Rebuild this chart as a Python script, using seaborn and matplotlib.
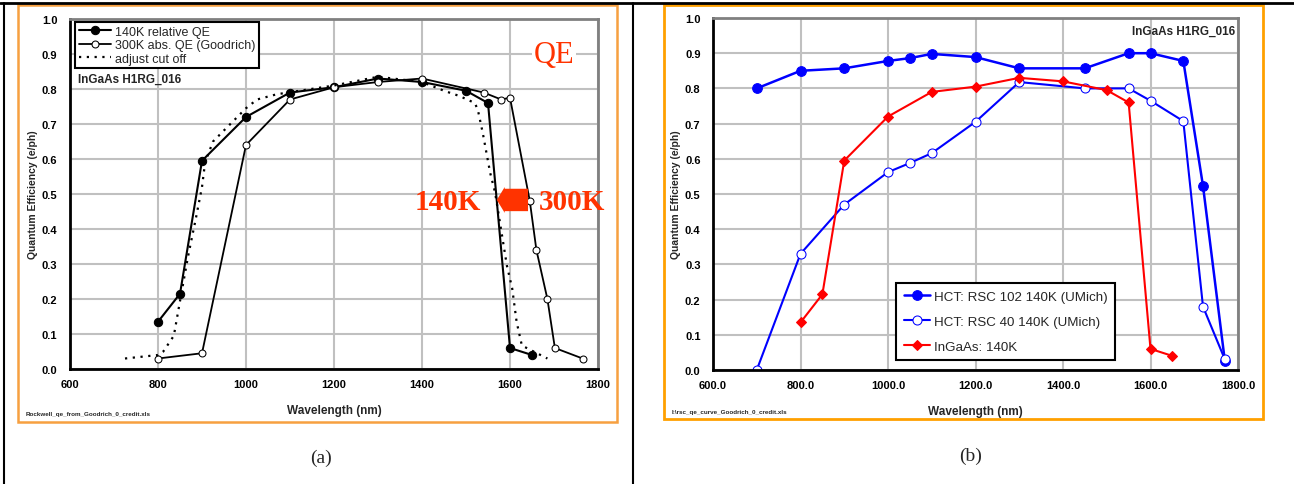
import matplotlib
matplotlib.use("Agg")
import matplotlib.pyplot as plt
import seaborn as sns
from matplotlib.patches import FancyArrow, Rectangle
from matplotlib.lines import Line2D
from matplotlib.ticker import MultipleLocator

# --- 데이터: (a) InGaAs H1RG_016 ---
wl_140k = [800, 850, 900, 1000, 1100, 1200, 1300, 1400, 1500, 1550, 1600, 1650]
qe_140k = [0.135, 0.215, 0.595, 0.72, 0.79, 0.805, 0.83, 0.82, 0.795, 0.76, 0.06, 0.04]

wl_300k = [800, 900, 1000, 1100, 1200, 1300, 1400, 1540, 1580, 1600, 1645, 1660, 1685, 1702, 1765]
qe_300k = [0.03, 0.045, 0.64, 0.77, 0.805, 0.82, 0.83, 0.79, 0.77, 0.775, 0.48, 0.34, 0.20, 0.06, 0.03]

wl_cut = [725, 800, 812, 836, 848, 868, 886, 900, 907, 925, 1000, 1025, 1070, 1200, 1300, 1400,
          1450, 1485, 1520, 1527, 1538, 1555, 1566, 1593, 1605, 1615, 1627, 1685]
qe_cut = [0.03, 0.04, 0.05, 0.095, 0.18, 0.32, 0.43, 0.52, 0.59, 0.65, 0.745, 0.77, 0.785, 0.81,
          0.835, 0.82, 0.795, 0.78, 0.76, 0.74, 0.675, 0.56, 0.505, 0.295, 0.23, 0.135, 0.067, 0.03]

# --- 데이터: (b) HCT vs InGaAs ---
wl_hct = [700, 800, 900, 1000, 1050, 1100, 1200, 1300, 1450, 1550, 1600, 1675, 1720, 1770]
qe_rsc102 = [0.80, 0.85, 0.857, 0.878, 0.886, 0.898, 0.889, 0.857, 0.857, 0.90, 0.90, 0.878, 0.523, 0.025]
qe_rsc40 = [0.0, 0.33, 0.47, 0.562, 0.588, 0.616, 0.705, 0.818, 0.80, 0.80, 0.765, 0.707, 0.18, 0.03]

x_ticks = [600, 800, 1000, 1200, 1400, 1600, 1800]
y_ticks = [0.0, 0.1, 0.2, 0.3, 0.4, 0.5, 0.6, 0.7, 0.8, 0.9, 1.0]

W, H = 1294, 485
NARROW = ["Liberation Sans Narrow", "Liberation Sans", "DejaVu Sans"]
SERIF = ["Liberation Serif", "DejaVu Serif"]
QE_RED = "#FF3300"

sns.set_style("white")
plt.rcParams["font.family"] = NARROW


def px_axes(fig, x0, y0, x1, y1):
    # 픽셀 좌표(좌상단 기준)로 axes 배치
    return fig.add_axes([x0 / W, (H - y1) / H, (x1 - x0) / W, (y1 - y0) / H])


def style_axes(ax, xfmt):
    ax.set_xlim(600, 1800)
    ax.set_ylim(0, 1.0)
    ax.set_xticks(x_ticks)
    ax.set_xticklabels([xfmt.format(v) for v in x_ticks])
    ax.set_yticks(y_ticks)
    ax.set_yticklabels([f"{v:.1f}" for v in y_ticks])
    ax.xaxis.set_minor_locator(MultipleLocator(40))
    ax.yaxis.set_minor_locator(MultipleLocator(0.02))
    ax.grid(True, which="major", color="#C0C0C0", linewidth=1.5)
    ax.set_axisbelow(True)
    for side in ("top", "right"):
        ax.spines[side].set_color("#808080")
        ax.spines[side].set_linewidth(2)
    for side in ("left", "bottom"):
        ax.spines[side].set_color("black")
        ax.spines[side].set_linewidth(2)
    ax.tick_params(axis="both", which="major", labelsize=8, length=4, width=1.5,
                   direction="in", pad=7, colors="black")
    ax.tick_params(axis="both", which="minor", length=2.5, width=1.2, direction="inout")
    ax.tick_params(axis="y", which="major", direction="inout", length=4)
    for lab in ax.get_xticklabels() + ax.get_yticklabels():
        lab.set_fontweight("bold")
    ax.set_xlabel("Wavelength (nm)", fontsize=8.5, fontweight="bold", labelpad=11)
    ax.set_ylabel("Quantum Efficiency (e/ph)", fontsize=7.5, fontweight="bold", labelpad=3)


fig = plt.figure(figsize=(W / 100, H / 100), dpi=100)

# --- 배경 표/테두리 (픽셀 좌표 오버레이) ---
bg = fig.add_axes([0, 0, 1, 1], zorder=-5)
bg.set_xlim(0, W)
bg.set_ylim(H, 0)
bg.axis("off")
bg.add_line(Line2D([0, W], [4, 4], color="black", linewidth=2))
bg.add_line(Line2D([4, 4], [4, H], color="black", linewidth=1.5))
bg.add_line(Line2D([633, 633], [4, H], color="black", linewidth=1.5))
bg.add_patch(Rectangle((18, 6), 599, 417, fill=False, edgecolor="#F7A040", linewidth=1.8))
bg.add_patch(Rectangle((664, 6), 599, 414, fill=False, edgecolor="#FFA000", linewidth=2))
bg.text(321, 458, "(a)", fontsize=14, family=SERIF, ha="center", va="center")
bg.text(971, 456, "(b)", fontsize=14, family=SERIF, ha="center", va="center")
bg.text(26, 415, "Rockwell_qe_from_Goodrich_0_credit.xls", fontsize=4.5, fontweight="bold",
        ha="left", va="center")
bg.text(672, 413, "I:\\rsc_qe_curve_Goodrich_0_credit.xls", fontsize=4.5, fontweight="bold",
        ha="left", va="center")

# --- (a) 패널 ---
ax1 = px_axes(fig, 70, 20, 598, 370)
sns.lineplot(x=wl_140k, y=qe_140k, ax=ax1, sort=False, estimator=None, color="black",
             linewidth=1.5, marker="o", markersize=6, markerfacecolor="black",
             markeredgecolor="black", label="140K relative QE")
sns.lineplot(x=wl_300k, y=qe_300k, ax=ax1, sort=False, estimator=None, color="black",
             linewidth=1.3, marker="o", markersize=5, markerfacecolor="white",
             markeredgecolor="black", label="300K abs. QE (Goodrich)")
sns.lineplot(x=wl_cut, y=qe_cut, ax=ax1, sort=False, estimator=None, color="black",
             linewidth=1.6, linestyle=(0, (1, 2.5)), label="adjust cut off")
style_axes(ax1, "{:d}")
leg1 = ax1.legend(loc="upper left", bbox_to_anchor=(0.009, 0.992), borderaxespad=0,
                  fontsize=9, frameon=True, fancybox=False, edgecolor="black",
                  framealpha=1, handlelength=2.6, handletextpad=0.3, labelspacing=0.12,
                  borderpad=0.3)
leg1.get_frame().set_linewidth(1.5)
ax1.text(0.015, 0.83, "InGaAs H1RG_016", transform=ax1.transAxes, fontsize=8.5,
         fontweight="bold", ha="left", va="center")
ax1.text(1700, 0.9, "QE", fontsize=22, family=SERIF, color=QE_RED, ha="center",
         va="center", bbox=dict(facecolor="white", edgecolor="none", pad=1))
ax1.text(1459, 0.48, "140K", fontsize=21, family=SERIF, fontweight="bold", color=QE_RED,
         ha="center", va="center")
ax1.text(1741, 0.48, "300K", fontsize=21, family=SERIF, fontweight="bold", color=QE_RED,
         ha="center", va="center")
ax1.add_patch(FancyArrow(1641, 0.483, -71, 0, width=0.064, head_width=0.074,
                         head_length=18, length_includes_head=True, color=QE_RED,
                         linewidth=0, zorder=6))

# --- (b) 패널 ---
ax2 = px_axes(fig, 713, 19, 1238, 371)
sns.lineplot(x=wl_hct, y=qe_rsc102, ax=ax2, sort=False, estimator=None, color="#0000FF",
             linewidth=1.8, marker="o", markersize=7, markerfacecolor="#0000FF",
             markeredgecolor="#0000FF", label="HCT: RSC 102 140K (UMich)")
sns.lineplot(x=wl_hct, y=qe_rsc40, ax=ax2, sort=False, estimator=None, color="#0000FF",
             linewidth=1.5, marker="o", markersize=6.5, markerfacecolor="white",
             markeredgecolor="#0000FF", label="HCT: RSC 40 140K (UMich)")
sns.lineplot(x=wl_140k, y=qe_140k, ax=ax2, sort=False, estimator=None, color="#FF0000",
             linewidth=1.5, marker="D", markersize=5.5, markerfacecolor="#FF0000",
             markeredgecolor="#FF0000", label="InGaAs: 140K")
style_axes(ax2, "{:.1f}")
leg2 = ax2.legend(loc="upper left", bbox_to_anchor=(0.349, 0.247), borderaxespad=0,
                  fontsize=9.6, frameon=True, fancybox=False, edgecolor="black",
                  framealpha=1, handlelength=2.0, handletextpad=0.3, labelspacing=0.95,
                  borderpad=0.55)
leg2.get_frame().set_linewidth(1.5)
ax2.text(0.995, 0.965, "InGaAs H1RG_016", transform=ax2.transAxes, fontsize=8.5,
         fontweight="bold", ha="right", va="center")

fig.savefig("out.png", dpi=100)
